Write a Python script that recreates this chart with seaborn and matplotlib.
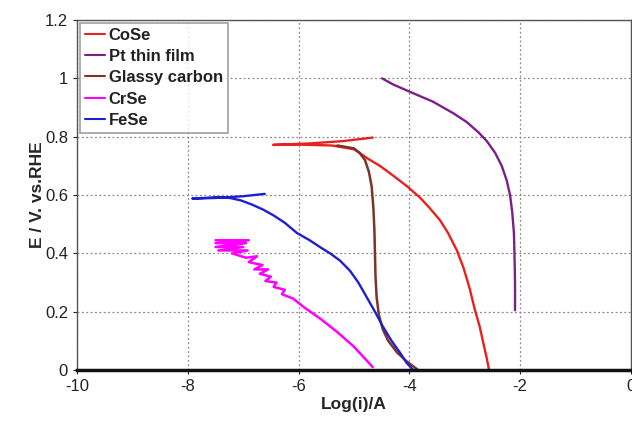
import matplotlib
matplotlib.use("Agg")
import matplotlib.pyplot as plt
import seaborn as sns
import pandas as pd

sns.set_style("white")
plt.rcParams["font.family"] = ["Liberation Sans", "DejaVu Sans"]
plt.rcParams["axes.unicode_minus"] = False

# --- data ---
cose_x = [-4.66, -5.2, -5.8, -6.46, -6.0, -5.4, -5.0, -4.9, -4.75, -4.53, -4.3,
          -4.04, -3.8, -3.63, -3.45, -3.3, -3.14, -3.02, -2.91, -2.82, -2.73,
          -2.66, -2.60, -2.56]
cose_y = [0.797, 0.785, 0.777, 0.772, 0.773, 0.77, 0.757, 0.745, 0.725, 0.70,
          0.668, 0.63, 0.59, 0.555, 0.515, 0.47, 0.41, 0.35, 0.28, 0.21, 0.15,
          0.09, 0.04, 0.0]

pt_x = [-4.49, -4.3, -4.0, -3.57, -3.2, -2.96, -2.75, -2.60, -2.45, -2.33,
        -2.24, -2.18, -2.14, -2.11, -2.10, -2.09, -2.09]
pt_y = [1.0, 0.98, 0.955, 0.92, 0.88, 0.85, 0.815, 0.785, 0.745, 0.70,
        0.65, 0.60, 0.54, 0.47, 0.40, 0.30, 0.205]

gc_x = [-5.3, -5.0, -4.9, -4.8, -4.73, -4.68, -4.65, -4.63, -4.62, -4.61,
        -4.59, -4.55, -4.48, -4.38, -4.22, -4.05, -3.84]
gc_y = [0.77, 0.76, 0.745, 0.72, 0.68, 0.63, 0.56, 0.48, 0.40, 0.32,
        0.25, 0.19, 0.14, 0.10, 0.06, 0.03, 0.0]

crse_x = [-7.5, -6.9, -7.5, -6.95, -7.5, -7.0, -7.45, -6.92, -7.2, -6.95, -6.75,
          -6.9, -6.65, -6.8, -6.55, -6.7, -6.5, -6.6, -6.4, -6.45, -6.25, -6.3,
          -6.1, -5.9, -5.6, -5.3, -5.0, -4.66]
crse_y = [0.445, 0.445, 0.435, 0.435, 0.422, 0.422, 0.41, 0.41, 0.40, 0.385, 0.39,
          0.37, 0.36, 0.345, 0.345, 0.33, 0.32, 0.305, 0.30, 0.285, 0.275, 0.26,
          0.245, 0.215, 0.175, 0.13, 0.08, 0.01]

fese_x = [-6.61, -7.0, -7.5, -7.92, -7.5, -7.24, -7.05, -6.85, -6.64, -6.45,
          -6.25, -6.03, -5.8, -5.6, -5.43, -5.25, -5.07, -4.92, -4.77, -4.62,
          -4.48, -4.32, -4.17, -4.05, -3.93]
fese_y = [0.604, 0.596, 0.59, 0.588, 0.592, 0.59, 0.582, 0.568, 0.55, 0.53,
          0.505, 0.47, 0.445, 0.42, 0.40, 0.375, 0.34, 0.30, 0.25, 0.20,
          0.15, 0.10, 0.06, 0.025, 0.0]

names = ["CoSe", "Pt thin film", "Glassy carbon", "CrSe", "FeSe"]
colors = ["#e8201e", "#7b1f8a", "#7a3428", "#ff00ff", "#1f1fd0"]

frames = []
for name, xs, ys in zip(names, [cose_x, pt_x, gc_x, crse_x, fese_x],
                        [cose_y, pt_y, gc_y, crse_y, fese_y]):
    frames.append(pd.DataFrame({"x": xs, "y": ys, "sample": name}))
df = pd.concat(frames, ignore_index=True)

fig = plt.figure(figsize=(6.32, 4.32), dpi=100)
ax = fig.add_axes([0.122, 0.1435, 0.876, 0.81])

sns.lineplot(data=df, x="x", y="y", hue="sample", hue_order=names,
             palette=colors, sort=False, estimator=None, linewidth=1.5, ax=ax)
for line, lw in zip(ax.get_lines(), [1.7, 1.7, 1.8, 1.8, 1.7]):
    line.set_linewidth(lw)

ax.set_xlim(-10, 0)
ax.set_ylim(0, 1.2)
ax.set_xticks([-10, -8, -6, -4, -2, 0])
ax.set_xticklabels(["-10", "-8", "-6", "-4", "-2", "0"])
ax.set_yticks([0, 0.2, 0.4, 0.6, 0.8, 1.0, 1.2])
ax.set_yticklabels(["0", "0.2", "0.4", "0.6", "0.8", "1", "1.2"])
ax.grid(True, linestyle=(0, (1.5, 2)), color="#888888", linewidth=0.9)
ax.tick_params(labelsize=12, colors="#222222", direction="out", length=3,
               left=True, bottom=True)

for side in ["top", "right", "left"]:
    ax.spines[side].set_color("#555555")
    ax.spines[side].set_linewidth(1.0)
ax.spines["bottom"].set_color("#111111")
ax.spines["bottom"].set_linewidth(2.5)

ax.set_xlabel("Log(i)/A", fontsize=12.5, fontweight="bold", labelpad=2)
ax.set_ylabel("E / V. vs.RHE", fontsize=12.5, fontweight="bold", labelpad=0)

leg = ax.legend(loc="upper left", fontsize=12, frameon=True, fancybox=False,
                handlelength=1.2, handletextpad=0.25, labelspacing=0.38,
                borderaxespad=0.15, borderpad=0.3)
leg.get_frame().set_edgecolor("#888888")
leg.get_frame().set_linewidth(1.2)
for t in leg.get_texts():
    t.set_fontweight("bold")
    t.set_color("#222222")

fig.savefig("out.png", dpi=100)
